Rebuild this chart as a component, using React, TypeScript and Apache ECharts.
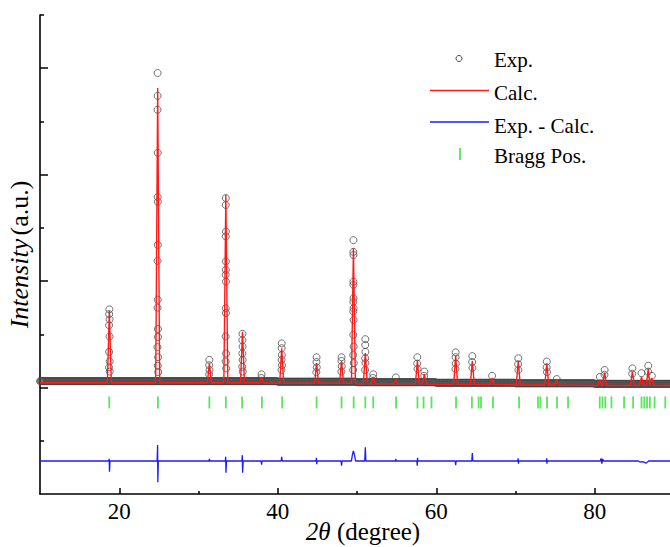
import { useEffect, useRef } from "react";
import * as echarts from "echarts";

// ---------- axis ticks ----------
const xMin = 10;
const xMax = 90;
const xTicksMajor = [20, 40, 60, 80];
const xTicksMinor = [30, 50, 70];
const yMin = 0;
const yMax = 9;
const yTicksMajor = [2, 4, 6, 8];
const yTicksMinor = [1, 3, 5, 7, 9];

// ---------- Exp. (observed) ----------
const scanStep = 0.1; // measurement step (deg)
const bgSegStart = [10, 20, 30, 40, 50, 60, 70, 80];
const expBgLevel = [2.12, 2.12, 2.12, 2.11, 2.1, 2.09, 2.08, 2.07];
// circles standing on the peaks [2θ, I]
const expPeakPoints: [number, number][] = [
  [18.75, 3.47], [18.73, 3.38], [18.78, 3.28], [18.72, 3.17], [18.78, 2.96], [18.72, 2.67], [18.79, 2.49], [18.71, 2.38], [18.8, 2.3],
  [24.84, 7.91], [24.84, 7.48], [24.83, 7.22], [24.86, 6.41], [24.85, 5.58], [24.87, 5.49], [24.87, 4.68], [24.84, 4.38], [24.86, 3.65], [24.83, 3.5], [24.88, 3.1], [24.89, 2.95], [24.82, 2.76], [24.9, 2.57], [24.86, 2.41], [24.91, 2.29],
  [31.37, 2.52], [31.35, 2.42], [31.39, 2.33], [31.35, 2.25],
  [33.45, 5.56], [33.44, 5.43], [33.46, 4.93], [33.44, 4.84], [33.46, 4.37], [33.45, 4.21], [33.43, 4.12], [33.47, 3.99], [33.44, 3.49], [33.46, 3.4], [33.43, 2.96], [33.48, 2.64], [33.42, 2.49], [33.49, 2.36],
  [35.55, 3.01], [35.54, 2.89], [35.56, 2.77], [35.53, 2.64], [35.57, 2.52], [35.52, 2.39], [35.58, 2.3],
  [37.95, 2.25], [37.93, 2.18],
  [40.5, 2.83], [40.49, 2.74], [40.52, 2.61], [40.48, 2.52], [40.53, 2.42], [40.47, 2.33],
  [44.9, 2.57], [44.88, 2.48], [44.92, 2.38], [44.87, 2.29],
  [48.05, 2.57], [48.04, 2.5], [48.07, 2.4], [48.03, 2.3],
  [49.55, 4.77], [49.54, 4.55], [49.56, 4.49], [49.55, 3.99], [49.54, 3.93], [49.56, 3.68], [49.54, 3.61], [49.57, 3.49], [49.53, 3.43], [49.57, 3.27], [49.53, 2.99], [49.58, 2.77], [49.52, 2.61], [49.59, 2.46], [49.51, 2.33],
  [51.05, 2.91], [51.04, 2.8], [51.06, 2.67], [51.03, 2.55], [51.07, 2.46], [51.02, 2.33],
  [52.05, 2.25], [52.03, 2.18],
  [54.9, 2.19],
  [57.62, 2.57], [57.6, 2.45], [57.64, 2.35],
  [58.5, 2.3], [58.48, 2.22],
  [62.45, 2.66], [62.44, 2.57], [62.47, 2.45], [62.42, 2.35],
  [64.55, 2.59], [64.53, 2.48], [64.57, 2.37],
  [67.05, 2.22],
  [70.35, 2.55], [70.33, 2.44], [70.37, 2.33],
  [73.95, 2.49], [73.93, 2.38], [73.97, 2.29],
  [75.2, 2.16],
  [80.65, 2.2], [81.25, 2.33], [81.23, 2.24],
  [84.75, 2.36], [84.73, 2.26],
  [85.9, 2.27],
  [86.75, 2.41], [86.73, 2.3],
  [87.2, 2.22],
];

// ---------- Calc. ----------
const calcBgAt = [10, 20, 30, 40, 50, 60, 70, 80, 90];
const calcBgLevel = [2.09, 2.09, 2.09, 2.08, 2.07, 2.06, 2.05, 2.04, 2.04];
const calcPeakPos = [18.75, 24.85, 31.37, 33.45, 35.55, 37.95, 40.5, 44.9, 48.05, 49.55, 51.05, 52.05, 54.9, 57.62, 58.5, 62.45, 64.55, 67.05, 70.35, 73.95, 75.2, 80.65, 81.25, 84.75, 85.9, 86.75, 87.2];
const calcPeakTop = [3.44, 7.63, 2.45, 5.62, 3.05, 2.2, 2.74, 2.46, 2.5, 4.62, 2.65, 2.2, 2.15, 2.5, 2.25, 2.6, 2.5, 2.18, 2.5, 2.45, 2.15, 2.15, 2.28, 2.3, 2.2, 2.35, 2.18];
const calcPeakFoot = 0.25; // half base width (deg)

// ---------- Exp. - Calc. ----------
const diffLevel = 0.62;
const diffPoints: [number, number][] = [
  [18.68, 0.62], [18.73, 0.66], [18.77, 0.42], [18.83, 0.62],
  [24.78, 0.62], [24.84, 0.92], [24.87, 0.22], [24.93, 0.62],
  [31.32, 0.62], [31.37, 0.66], [31.42, 0.62],
  [33.38, 0.62], [33.43, 0.7], [33.47, 0.4], [33.53, 0.62],
  [35.48, 0.62], [35.53, 0.73], [35.57, 0.4], [35.63, 0.62],
  [37.9, 0.62], [37.96, 0.55], [38.02, 0.62],
  [40.43, 0.62], [40.5, 0.7], [40.57, 0.62],
  [44.84, 0.62], [44.88, 0.68], [44.92, 0.56], [44.96, 0.62],
  [47.99, 0.62], [48.05, 0.53], [48.11, 0.62],
  [49.3, 0.62], [49.42, 0.74], [49.55, 0.81], [49.7, 0.72], [49.82, 0.62],
  [50.98, 0.62], [51.05, 0.88], [51.12, 0.62],
  [54.85, 0.62], [54.9, 0.66], [54.95, 0.62],
  [57.56, 0.62], [57.6, 0.53], [57.64, 0.68], [57.68, 0.62],
  [62.39, 0.62], [62.45, 0.54], [62.51, 0.62],
  [64.49, 0.62], [64.55, 0.77], [64.61, 0.62],
  [70.29, 0.62], [70.33, 0.67], [70.37, 0.57], [70.41, 0.62],
  [73.89, 0.62], [73.93, 0.67], [73.97, 0.57], [74.01, 0.62],
  [80.7, 0.62], [80.8, 0.67], [80.9, 0.57], [81.0, 0.66], [81.1, 0.62],
  [85.5, 0.62], [85.7, 0.6], [86.0, 0.61], [86.5, 0.58], [86.8, 0.62],
];

// ---------- Bragg positions ----------
const braggLevel = 1.72;
const braggPos = [18.74, 24.88, 31.37, 33.45, 35.5, 38.0, 40.55, 44.9, 48.05, 49.58, 51.05, 52.05, 54.93, 57.63, 58.4, 59.4, 62.5, 64.5, 65.35, 65.65, 67.16, 70.45, 72.84, 73.14, 73.98, 75.24, 76.63, 80.63, 80.97, 81.33, 82.11, 83.7, 84.84, 85.9, 86.25, 86.6, 86.95, 87.55, 88.9];

const FONT = "'Liberation Serif', 'Times New Roman', serif";
const RED = "#ff1a1a";
const BLUE = "#1a1aff";
const GREEN = "#33dd33";
const GREY = "#444444";

function buildExp(): [number, number][] {
  const pts: [number, number][] = [];
  const n = Math.round((xMax - xMin) / scanStep);
  for (let i = 0; i <= n; i++) {
    const x = xMin + i * scanStep;
    let seg = Math.floor((x - bgSegStart[0]) / 10);
    seg = Math.max(0, Math.min(expBgLevel.length - 1, seg));
    pts.push([+x.toFixed(2), expBgLevel[seg]]);
  }
  return pts.concat(expPeakPoints);
}

function buildCalc(): [number, number][] {
  const pts: [number, number][] = calcBgAt.map((x, i) => [x, calcBgLevel[i]]);
  calcPeakPos.forEach((p, i) => {
    let seg = Math.floor((p - calcBgAt[0]) / 10);
    seg = Math.max(0, Math.min(calcBgLevel.length - 1, seg));
    const b = calcBgLevel[seg];
    pts.push([p - calcPeakFoot, b], [p, calcPeakTop[i]], [p + calcPeakFoot, b]);
  });
  return pts.sort((a, b) => a[0] - b[0]);
}

function buildDiff(): [number, number][] {
  const pts: [number, number][] = [[xMin, diffLevel], ...diffPoints, [xMax, diffLevel]];
  return pts.sort((a, b) => a[0] - b[0]);
}

export default function App() {
  const ref = useRef<HTMLDivElement>(null);
  useEffect(() => {
    if (!ref.current) return;
    const chart = echarts.init(ref.current, undefined, { renderer: "svg" });
    const axisLine = { show: true, lineStyle: { color: "#000", width: 1.6 } };
    const legendText = (text: string, y: number) => ({
      type: "text",
      x: 494,
      y,
      style: { text, fontFamily: FONT, fontSize: 21, fill: "#000", verticalAlign: "middle", align: "left" },
    });
    chart.setOption({
      animation: false,
      backgroundColor: "#fff",
      grid: { left: 40, top: 15, right: -4, bottom: 53, containLabel: false, outerBoundsMode: "none" },
      xAxis: [
        {
          type: "value",
          min: xMin,
          max: xMax,
          position: "bottom",
          axisLine,
          axisTick: { show: true, inside: true, length: 6, customValues: xTicksMajor, lineStyle: { color: "#000", width: 1.5 } },
          axisLabel: { show: true, customValues: xTicksMajor, fontFamily: FONT, fontSize: 23, color: "#000", margin: 6 },
          splitLine: { show: false },
          name: "{i|2θ}{n| (degree)}",
          nameLocation: "middle",
          nameGap: 25,
          nameMoveOverlap: false,
          nameTextStyle: {
            padding: [0, 0, 0, 12],
            rich: {
              i: { fontFamily: FONT, fontStyle: "italic", fontSize: 25, color: "#000" },
              n: { fontFamily: FONT, fontSize: 25, color: "#000" },
            },
          },
        },
        {
          type: "value",
          min: xMin,
          max: xMax,
          position: "bottom",
          axisLine: { show: false },
          axisTick: { show: true, inside: true, length: 3, customValues: xTicksMinor, lineStyle: { color: "#000", width: 1.5 } },
          axisLabel: { show: false },
          splitLine: { show: false },
        },
      ],
      yAxis: [
        {
          type: "value",
          min: yMin,
          max: yMax,
          position: "left",
          axisLine,
          axisTick: { show: true, inside: true, length: 8, customValues: yTicksMajor, lineStyle: { color: "#000", width: 1.5 } },
          axisLabel: { show: false },
          splitLine: { show: false },
          name: "{i|Intensity} {n|(a.u.)}",
          nameLocation: "middle",
          nameRotate: 90,
          nameGap: 8,
          nameMoveOverlap: false,
          nameTextStyle: {
            rich: {
              i: { fontFamily: FONT, fontStyle: "italic", fontSize: 26, color: "#000" },
              n: { fontFamily: FONT, fontSize: 26, color: "#000" },
            },
          },
        },
        {
          type: "value",
          min: yMin,
          max: yMax,
          position: "left",
          axisLine: { show: false },
          axisTick: { show: true, inside: true, length: 4, customValues: yTicksMinor, lineStyle: { color: "#000", width: 1.5 } },
          axisLabel: { show: false },
          splitLine: { show: false },
        },
      ],
      series: [
        {
          name: "Exp.",
          type: "scatter",
          data: buildExp(),
          symbol: "circle",
          symbolSize: 7,
          itemStyle: { color: "rgba(0,0,0,0)", borderColor: GREY, borderWidth: 1, opacity: 0.75 },
          z: 2,
        },
        {
          name: "Calc.",
          type: "line",
          data: buildCalc(),
          showSymbol: false,
          symbol: "none",
          lineStyle: { color: RED, width: 1.4 },
          z: 3,
        },
        {
          name: "Exp. - Calc.",
          type: "line",
          data: buildDiff(),
          showSymbol: false,
          symbol: "none",
          lineStyle: { color: BLUE, width: 1.3 },
          z: 3,
        },
        {
          name: "Bragg Pos.",
          type: "scatter",
          data: braggPos.map((p) => [p, braggLevel]),
          symbol: "rect",
          symbolSize: [1.8, 12],
          itemStyle: { color: GREEN },
          z: 3,
        },
      ],
      graphic: [
        { type: "circle", shape: { cx: 459, cy: 58.5, r: 3 }, style: { fill: "none", stroke: "#444", lineWidth: 1 } },
        legendText("Exp.", 60),
        { type: "line", shape: { x1: 430, y1: 90.5, x2: 489, y2: 90.5 }, style: { stroke: RED, lineWidth: 1.5 } },
        legendText("Calc.", 92.5),
        { type: "line", shape: { x1: 430, y1: 122, x2: 489, y2: 122 }, style: { stroke: BLUE, lineWidth: 1.5 } },
        legendText("Exp. - Calc.", 125.5),
        { type: "line", shape: { x1: 460, y1: 148, x2: 460, y2: 160 }, style: { stroke: GREEN, lineWidth: 1.5 } },
        legendText("Bragg Pos.", 156),
      ],
    });
    return () => chart.dispose();
  }, []);
  return (
    <div
      ref={ref}
      style={{ position: "fixed", left: 0, top: 0, width: 670, height: 547, background: "#fff" }}
    />
  );
}
